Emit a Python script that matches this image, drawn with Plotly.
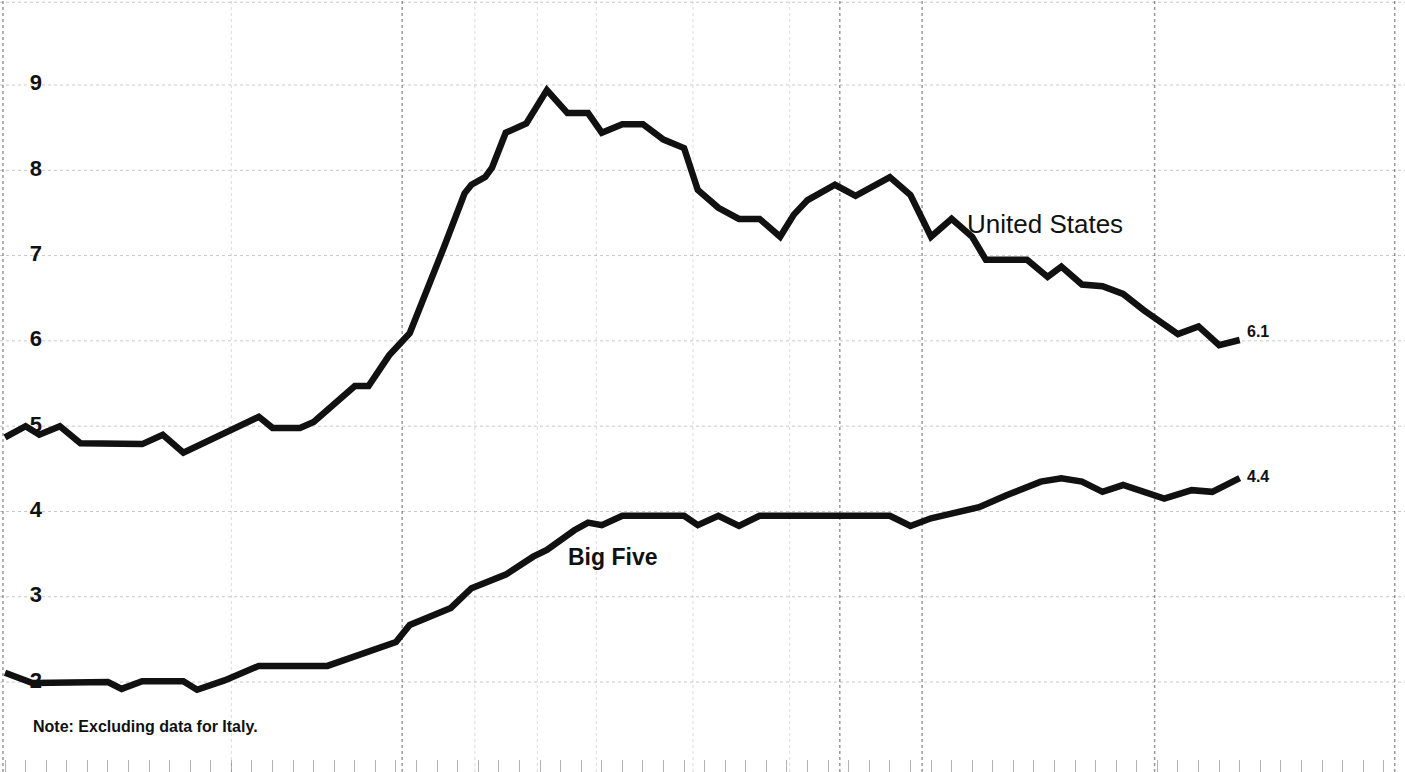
import plotly.graph_objects as go

# ---- data (month index from start of series, value in percent) ----
us_month = [0, 3, 5, 8, 11, 20, 23, 26, 37, 39, 43, 45, 51, 53, 56, 59, 64, 67, 68, 70, 71,
            73, 76, 79, 82, 85, 87, 90, 93, 96, 99, 101, 104, 107, 110, 113, 115, 117, 121,
            124, 129, 132, 135, 138, 141, 143, 149, 152, 154, 157, 160, 163, 166, 171, 174,
            177, 180]
us_value = [4.87, 5.00, 4.90, 5.00, 4.80, 4.79, 4.90, 4.69, 5.11, 4.98, 4.98, 5.05, 5.47, 5.47,
            5.83, 6.09, 7.10, 7.73, 7.83, 7.92, 8.03, 8.44, 8.55, 8.94, 8.67, 8.67, 8.44, 8.54,
            8.54, 8.36, 8.26, 7.77, 7.56, 7.43, 7.43, 7.22, 7.48, 7.65, 7.83, 7.70, 7.92, 7.71,
            7.22, 7.43, 7.22, 6.95, 6.95, 6.75, 6.87, 6.66, 6.64, 6.55, 6.36, 6.08, 6.17, 5.95,
            6.01]

b5_month = [0, 4, 15, 17, 20, 26, 28, 32, 37, 47, 57, 59, 65, 68, 73, 77, 79, 83, 85, 87, 90,
            99, 101, 104, 107, 110, 129, 132, 135, 142, 146, 151, 154, 157, 160, 163, 169, 173,
            176, 180]
b5_value = [2.11, 1.99, 2.00, 1.92, 2.01, 2.01, 1.91, 2.02, 2.19, 2.19, 2.47, 2.67, 2.87, 3.10,
            3.26, 3.47, 3.55, 3.78, 3.87, 3.84, 3.95, 3.95, 3.84, 3.95, 3.83, 3.95, 3.95, 3.83,
            3.92, 4.05, 4.19, 4.35, 4.39, 4.35, 4.23, 4.31, 4.15, 4.25, 4.23, 4.39]

y_ticks = [2, 3, 4, 5, 6, 7, 8, 9]
us_end_label = "6.1"
b5_end_label = "4.4"
series_names = ["United States", "Big Five"]
note_text = "Note: Excluding data for Italy."

# faint grid lines of the original chart paper (month positions)
vgrid_light = [33, 68.5, 77.6, 86.2, 100.3, 114.4]
vgrid_dark = [-0.3, 57.9, 121.7, 133.7, 167.6, 202.6]

FONT = "Liberation Sans, Arial, Helvetica, sans-serif"
INK = "#111111"

fig = go.Figure()

# y tick labels drawn first so the lines pass over them
fig.add_trace(go.Scatter(
    x=[4.5] * len(y_ticks), y=y_ticks, mode="text",
    text=[f"<b>{t}</b>" for t in y_ticks],
    textfont=dict(family=FONT, size=22, color=INK),
    hoverinfo="skip", showlegend=False))

for mx, vals, name in [(us_month, us_value, series_names[0]),
                       (b5_month, b5_value, series_names[1])]:
    fig.add_trace(go.Scatter(
        x=mx, y=vals, mode="lines", name=name,
        line=dict(color=INK, width=6.5, shape="linear"),
        showlegend=False))

shapes = []
for t in y_ticks + [9.97]:
    shapes.append(dict(type="line", xref="paper", x0=0, x1=1, yref="y", y0=t, y1=t,
                       line=dict(color="rgba(0,0,0,0.22)", width=1, dash="dot"), layer="below"))
for v in vgrid_light:
    shapes.append(dict(type="line", xref="x", x0=v, x1=v, yref="paper", y0=0, y1=1,
                       line=dict(color="rgba(0,0,0,0.14)", width=1, dash="dot"), layer="below"))
for v in vgrid_dark:
    shapes.append(dict(type="line", xref="x", x0=v, x1=v, yref="paper", y0=0, y1=1,
                       line=dict(color="rgba(0,0,0,0.4)", width=1.5, dash="dot"), layer="below"))

annotations = [
    dict(x=us_month[-1], y=us_value[-1], xref="x", yref="y", text=f"<b>{us_end_label}</b>",
         showarrow=False, xanchor="left", yanchor="middle", xshift=5, yshift=9,
         font=dict(family=FONT, size=16, color=INK)),
    dict(x=b5_month[-1], y=b5_value[-1], xref="x", yref="y", text=f"<b>{b5_end_label}</b>",
         showarrow=False, xanchor="left", yanchor="middle", xshift=5, yshift=2,
         font=dict(family=FONT, size=16, color=INK)),
    dict(x=140.0, y=7.37, xref="x", yref="y", text=series_names[0], showarrow=False,
         xanchor="left", yanchor="middle", font=dict(family=FONT, size=26, color=INK)),
    dict(x=81.8, y=3.47, xref="x", yref="y", text=f"<b>{series_names[1]}</b>", showarrow=False,
         xanchor="left", yanchor="middle", font=dict(family=FONT, size=23, color=INK)),
    dict(x=0.022, y=1.48, xref="paper", yref="y", text=f"<b>{note_text}</b>", showarrow=False,
         xanchor="left", yanchor="middle", font=dict(family=FONT, size=16, color=INK)),
]

fig.update_layout(
    width=1405, height=772,
    margin=dict(l=0, r=0, t=0, b=0),
    paper_bgcolor="white", plot_bgcolor="white",
    shapes=shapes, annotations=annotations,
    xaxis=dict(range=[-0.73, 204.1], showgrid=False, zeroline=False, showticklabels=False,
               ticks="inside", ticklen=12, tickwidth=1, tickcolor="rgba(0,0,0,0.3)",
               dtick=3, tick0=0, showline=True, linecolor="rgba(0,0,0,0.3)", linewidth=1,
               mirror=False, fixedrange=True),
    yaxis=dict(range=[0.946, 9.996], showgrid=False, zeroline=False, showticklabels=False,
               ticks="", showline=False, fixedrange=True),
    showlegend=False,
)

fig.write_html("out.html", config={"displayModeBar": False},
               post_script="document.body.style.margin='0';document.body.style.overflow='hidden';")
